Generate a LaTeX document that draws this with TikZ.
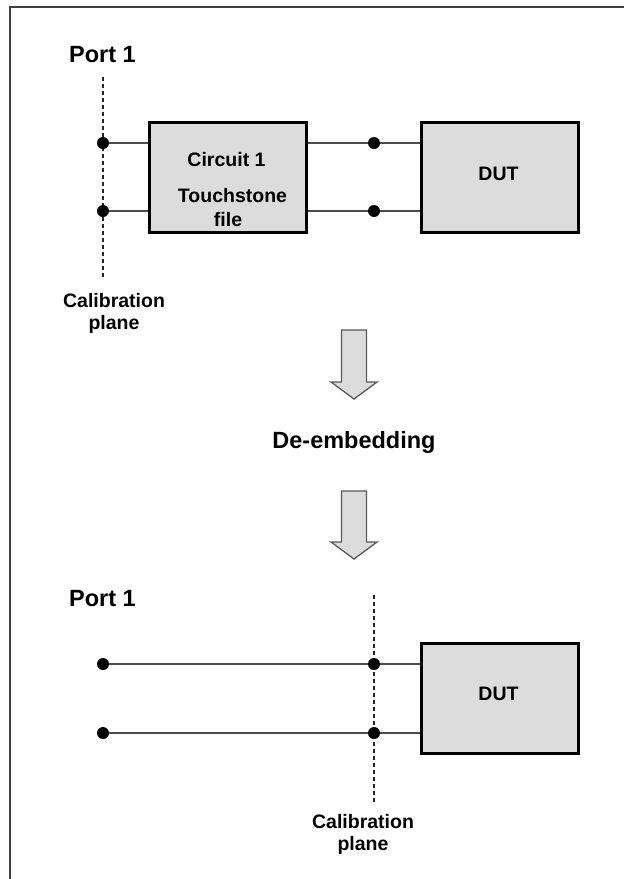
\documentclass[tikz,border=0pt]{standalone}
\usepackage{fontspec}
\setmainfont{Liberation Sans}
\definecolor{boxgray}{RGB}{220,220,220}
\begin{document}
\begin{tikzpicture}[x=1pt, y=-1pt,
  block/.style={draw=black, line width=3pt, fill=boxgray, minimum width=157pt, minimum height=110pt, inner sep=0pt},
  txt/.style={font=\bfseries\fontsize{19.5}{22}\selectfont, anchor=base, inner sep=0pt},
  heading/.style={font=\bfseries\fontsize{23.5}{26}\selectfont, anchor=base, inner sep=0pt},
  terminal/.style={circle, fill=black, minimum size=12pt, inner sep=0pt},
  wire/.style={draw=black!70, line width=1.4pt},
  plane/.style={draw=black!85, line width=1.3pt, dash pattern=on 3.5pt off 3.5pt},
  bigarrow/.style={draw=black!65, line width=1.3pt, fill=boxgray, line join=miter},
  frame/.style={draw=black!75, line width=1.6pt}
]
\useasboundingbox (0,0) rectangle (624,879);
\draw[frame] (10,879) -- (10,7) -- (624,7);

% before de-embedding
\node[heading] (portA) at (102.5,62) {Port 1};
\coordinate (planeAtop) at (103,77);
\coordinate (planeAbot) at (103,280);
\draw[plane] (planeAtop) -- (planeAbot);
\node[txt] (calA) at (114,307) {Calibration};
\node[txt] (calAp) at (114,329) {plane};

\node[block] (circ) at (228,177.5) {};
\node[txt] (circA) at (226.5,166) {Circuit 1};
\node[txt] (circB) at (232.5,202) {Touchstone};
\node[txt] (circC) at (228,226) {file};
\node[block] (dutA) at (499.5,177.5) {};
\node[txt] (dutAt) at (498.5,180) {DUT};

\node[terminal] (inA1) at (103,143) {};
\node[terminal] (inA2) at (103,211) {};
\node[terminal] (midA1) at (374,143) {};
\node[terminal] (midA2) at (374,211) {};

\draw[wire] (inA1) -- (inA1 -| circ.west);
\draw[wire] (inA2) -- (inA2 -| circ.west);
\draw[wire] (midA1 -| circ.east) -- (midA1) -- (midA1 -| dutA.west);
\draw[wire] (midA2 -| circ.east) -- (midA2) -- (midA2 -| dutA.west);

% de-embedding step
\coordinate (arrA) at (354,330);
\draw[bigarrow] (arrA) ++(-12.5,0) -- ++(25,0) -- ++(0,52) -- ++(10.5,0) -- ++(-23,17) -- ++(-23,-17) -- ++(10.5,0) -- cycle;
\node[heading] (deemb) at (354,448) {De-embedding};
\coordinate (arrB) at (354,491);
\draw[bigarrow] (arrB) ++(-12.5,0) -- ++(25,0) -- ++(0,51) -- ++(10.5,0) -- ++(-23,17) -- ++(-23,-17) -- ++(10.5,0) -- cycle;

% after de-embedding
\node[heading] (portB) at (102.5,606) {Port 1};
\coordinate (planeBtop) at (374,595);
\coordinate (planeBbot) at (374,802);
\draw[plane] (planeBtop) -- (planeBbot);
\node[txt] (calB) at (363,828) {Calibration};
\node[txt] (calBp) at (363,850) {plane};

\node[block] (dutB) at (499.5,698) {};
\node[txt] (dutBt) at (498.5,700) {DUT};

\node[terminal] (inB1) at (103,664) {};
\node[terminal] (inB2) at (103,733) {};
\node[terminal] (midB1) at (374,664) {};
\node[terminal] (midB2) at (374,733) {};

\draw[wire] (inB1) -- (midB1) -- (midB1 -| dutB.west);
\draw[wire] (inB2) -- (midB2) -- (midB2 -| dutB.west);
\end{tikzpicture}
\end{document}
